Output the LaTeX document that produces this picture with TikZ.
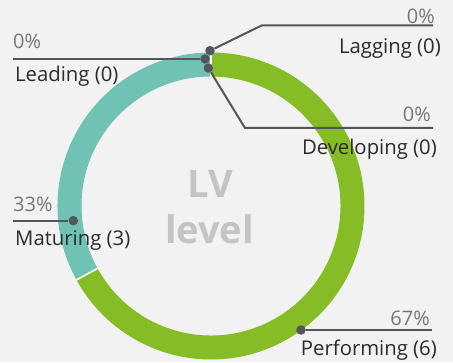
\documentclass[tikz,border=0pt]{standalone}
\usepackage{fontspec}
\setmainfont{Open Sans}
\definecolor{bg}{HTML}{F2F2F2}
\definecolor{dgreen}{HTML}{86BC25}
\definecolor{dteal}{HTML}{6FC2B4}
\definecolor{lgray}{HTML}{53565A}
\definecolor{pgray}{HTML}{75787B}
\definecolor{lbl}{HTML}{2B2B2B}
\definecolor{ctr}{HTML}{C4C4C4}
\begin{document}
\begin{tikzpicture}[x=1pt,y=1pt,
  dot/.style={circle,fill=lgray,inner sep=0pt,minimum size=9.5pt},
  leader/.style={draw=lgray,line width=2pt},
  pct/.style={inner sep=0pt,text=pgray,font=\fontsize{20}{22}\selectfont},
  lab/.style={inner sep=0pt,text=lbl,font=\fontsize{20.3}{22}\selectfont},
  ctrtext/.style={inner sep=0pt,text=ctr,font=\fontsize{38}{46}\selectfont\bfseries},
  sep/.style={draw=white,line width=1.6pt}]
\fill[bg] (0,0) rectangle (453,362);
\useasboundingbox (0,0) rectangle (453,362);
\def\ringout{153.5}
\def\ringin{129.5}
\coordinate (c) at (211,156);
% segments
\fill[dgreen] ([shift={(90:\ringout)}]c) arc[start angle=90,end angle=-151.2,radius=\ringout]
  -- ([shift={(-151.2:\ringin)}]c) arc[start angle=-151.2,end angle=90,radius=\ringin] -- cycle;
\fill[dteal] ([shift={(208.8:\ringout)}]c) arc[start angle=208.8,end angle=90,radius=\ringout]
  -- ([shift={(90:\ringin)}]c) arc[start angle=90,end angle=208.8,radius=\ringin] -- cycle;
\draw[sep] ([shift={(208.8:\ringin-1)}]c) -- ([shift={(208.8:\ringout+1)}]c);
\draw[sep] ([shift={(90:\ringin-1)}]c) -- ([shift={(90:\ringout+1)}]c);
% center text
\node[ctrtext,anchor=base] (lv) at (210,164.7) {LV};
\node[ctrtext,anchor=base] (lvl) at (209.5,118.7) {level};
% dots
\node[dot] (dLag) at (210,311.3) {};
\node[dot] (dLead) at (205,303) {};
\node[dot] (dDev) at (208.3,294) {};
\node[dot] (dMat) at (73.3,141.3) {};
\node[dot] (dPerf) at (301,32) {};
% leader end points
\coordinate (kLag) at (262,336.7);
\coordinate (eLag) at (433,336.7);
\coordinate (eLead) at (13,303);
\coordinate (kDev) at (245,234);
\coordinate (eDev) at (433,234);
\coordinate (eMat) at (13,141.3);
\coordinate (ePerf) at (432,32);
\draw[leader] (dLag) -- (kLag) -- (eLag);
\draw[leader] (dLead) -- (eLead);
\draw[leader] (dDev) -- (kDev) -- (eDev);
\draw[leader] (eMat) -- (dMat);
\draw[leader] (dPerf) -- (ePerf);
% labels
\node[pct,anchor=base west] (pLead) at (13,313.7) {0\%};
\node[lab,anchor=base west] (tLead) at (15,280) {Leading (0)};
\node[pct,anchor=base east] (pLag) at (435,338.5) {0\%};
\node[lab,anchor=base east] (tLag) at (441,308) {Lagging (0)};
\node[pct,anchor=base east] (pDev) at (431,240) {0\%};
\node[lab,anchor=base east] (tDev) at (437,207) {Developing (0)};
\node[pct,anchor=base west] (pMat) at (13,150) {33\%};
\node[lab,anchor=base west] (tMat) at (15,116.3) {Maturing (3)};
\node[pct,anchor=base east] (pPerf) at (430,37) {67\%};
\node[lab,anchor=base east] (tPerf) at (437,6.3) {Performing (6)};
\end{tikzpicture}
\end{document}
